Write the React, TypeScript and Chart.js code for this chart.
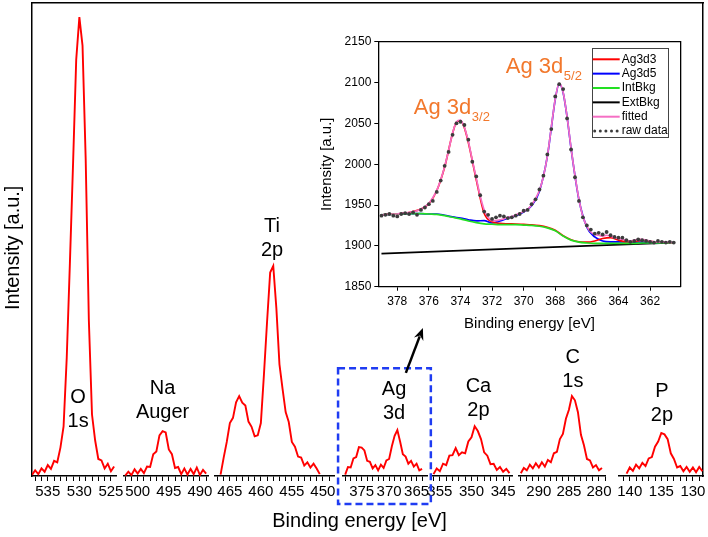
import React, { useEffect, useRef } from 'react';
import { Chart, registerables } from 'chart.js';

Chart.register(...registerables);

const FONT = "'Liberation Sans', Arial, Helvetica, sans-serif";
Chart.defaults.font.family = FONT;

// ---------------- survey spectrum (arbitrary intensity units) ----------------
const o1sE = [537.5, 537, 536.5, 536, 535.5, 535, 534.5, 534, 533.5, 533, 532.5, 532, 531.5, 531, 530.5, 530, 529.5, 529, 528.5, 528, 527.5, 527, 526.5, 526, 525.5, 525, 524.5];
const o1sI = [0.2, 1.2, 0.4, 1.6, 0.9, 2.3, 1.5, 3.2, 2.9, 6.0, 10.5, 25, 45, 66, 88, 97, 91, 67, 33, 13, 7.5, 3.6, 3.3, 1.6, 2.6, 1.0, 2.0];

const naE = [502, 501.5, 501, 500.5, 500, 499.5, 499, 498.5, 498, 497.5, 497, 496.5, 496, 495.5, 495, 494.5, 494, 493.5, 493, 492.5, 492, 491.5, 491, 490.5, 490, 489.5, 489];
const naI = [0.1, 0.9, 0.2, 1.4, 0.5, 1.5, 0.6, 2.0, 1.9, 4.6, 5.2, 8.6, 9.5, 9.2, 5.6, 4.6, 1.7, 1.9, 0.4, 1.6, 0.3, 1.5, 0.4, 1.8, 0.2, 1.3, 0.5];

const tiE = [466.5, 466, 465.5, 465, 464.5, 464, 463.5, 463, 462.5, 462, 461.5, 461, 460.5, 460, 459.5, 459, 458.5, 458, 457.5, 457, 456.5, 456, 455.5, 455, 454.5, 454, 453.5, 453, 452.5, 452, 451.5, 451, 450.5];
const tiI = [0.3, 3.9, 7.2, 11.2, 12.3, 15.6, 16.9, 15.5, 14.9, 11.5, 10.4, 8.4, 8.6, 11.2, 21.5, 32.6, 43, 44.4, 35.5, 23.6, 18.4, 13.5, 11.4, 7.2, 6.2, 4.1, 3.9, 2.2, 2.9, 1.8, 2.6, 1.6, 0.4];

const agE = [378, 377.5, 377, 376.5, 376, 375.5, 375, 374.5, 374, 373.5, 373, 372.5, 372, 371.5, 371, 370.5, 370, 369.5, 369, 368.5, 368, 367.5, 367, 366.5, 366, 365.5, 365, 364.5, 364];
const agI = [0.3, 1.9, 1.8, 3.7, 4.0, 6.1, 6.0, 5.4, 3.2, 3.0, 1.6, 2.3, 1.2, 2.4, 1.7, 3.3, 3.6, 6.3, 8.5, 9.7, 7.3, 4.6, 4.1, 2.6, 3.2, 2.0, 2.6, 1.2, 1.5];

const caE = [356, 355.5, 355, 354.5, 354, 353.5, 353, 352.5, 352, 351.5, 351, 350.5, 350, 349.5, 349, 348.5, 348, 347.5, 347, 346.5, 346, 345.5, 345, 344.5, 344];
const caI = [0.4, 1.6, 1.0, 2.6, 2.3, 4.3, 4.4, 5.9, 4.4, 5.0, 4.8, 7.3, 8.2, 10.5, 9.5, 7.8, 5.0, 4.3, 2.5, 2.6, 1.3, 1.9, 0.9, 1.5, 0.6];

const c1sE = [293, 292.5, 292, 291.5, 291, 290.5, 290, 289.5, 289, 288.5, 288, 287.5, 287, 286.5, 286, 285.5, 285, 284.5, 284, 283.5, 283, 282.5, 282, 281.5, 281, 280.5, 280, 279.5];
const c1sI = [0.6, 1.7, 1.2, 2.4, 1.6, 2.7, 1.8, 2.9, 2.0, 3.4, 2.9, 4.8, 5.1, 7.8, 8.9, 12.1, 14.0, 16.9, 16.0, 13.5, 8.7, 6.5, 3.6, 3.3, 1.8, 2.3, 1.2, 1.7];

const p2pE = [140.5, 140, 139.5, 139, 138.5, 138, 137.5, 137, 136.5, 136, 135.5, 135, 134.5, 134, 133.5, 133, 132.5, 132, 131.5, 131, 130.5, 130, 129.5, 129, 128.5];
const p2pI = [0.5, 1.8, 1.1, 2.4, 1.6, 2.8, 2.1, 3.7, 4.0, 6.2, 7.3, 9.1, 8.8, 7.8, 4.8, 3.6, 1.8, 2.1, 1.0, 1.9, 0.9, 1.8, 0.8, 1.9, 1.0];

const surveyE = [o1sE, naE, tiE, agE, caE, c1sE, p2pE];
const surveyI = [o1sI, naI, tiI, agI, caI, c1sI, p2pI];

// broken x axis: one axis per energy window (ranges in eV)
const segMax = [537.5, 502.2, 467.4, 378.4, 356.4, 293.3, 141.7];
const segMin = [524.2, 488.7, 448.2, 363.1, 343.6, 279.0, 128.4];

// peak annotations
const peakLines = [['O', '1s'], ['Na', 'Auger'], ['Ti', '2p'], ['Ag', '3d'], ['Ca', '2p'], ['C', '1s'], ['P', '2p']];
const peakE = [530.2, 496.0, 458.2, 369.1, 348.9, 284.35, 134.9];
const peakV = [16.7, 18.4, 52.7, 18.2, 18.9, 25.0, 17.8];

// ---------------- inset: Ag 3d fit ----------------
const insetE = [379, 378.75, 378.5, 378.25, 378, 377.75, 377.5, 377.25, 377, 376.75, 376.5, 376.25, 376, 375.75, 375.5, 375.25, 375, 374.75, 374.5, 374.25, 374, 373.75, 373.5, 373.25, 373, 372.75, 372.5, 372.25, 372, 371.75, 371.5, 371.25, 371, 370.75, 370.5, 370.25, 370, 369.75, 369.5, 369.25, 369, 368.75, 368.5, 368.25, 368, 367.75, 367.5, 367.25, 367, 366.75, 366.5, 366.25, 366, 365.75, 365.5, 365.25, 365, 364.75, 364.5, 364.25, 364, 363.75, 363.5, 363.25, 363, 362.75, 362.5, 362.25, 362, 361.75, 361.5, 361.25, 361, 360.75, 360.5];
const rawData = [1937, 1938, 1939, 1937, 1936, 1939, 1940, 1939, 1941, 1938, 1944, 1947, 1951, 1955, 1966, 1980, 1998, 2015, 2036, 2050, 2052, 2048, 2030, 2003, 1985, 1962, 1942, 1938, 1933, 1935, 1937, 1936, 1934, 1935, 1937, 1939, 1943, 1944, 1951, 1957, 1969, 1986, 2012, 2043, 2083, 2098, 2092, 2056, 2018, 1984, 1955, 1935, 1925, 1920, 1915, 1916, 1914, 1917, 1913, 1911, 1910, 1910, 1907, 1905, 1906, 1908, 1907, 1906, 1905, 1904, 1906, 1905, 1904, 1905, 1904];
const fitted = [1938, 1938, 1939, 1939, 1939, 1940, 1940, 1941, 1942, 1943, 1945, 1948, 1952, 1959, 1968, 1981, 1997, 2017, 2038, 2052, 2054, 2045, 2028, 2005, 1983, 1961, 1944, 1935, 1931, 1931, 1932, 1933, 1935, 1936, 1938, 1940, 1942, 1945, 1950, 1958, 1968, 1985, 2010, 2045, 2080, 2099, 2088, 2058, 2020, 1986, 1957, 1936, 1924, 1917, 1914, 1913, 1912, 1913, 1912, 1910, 1909, 1908, 1907, 1906, 1907, 1908, 1908, 1907, 1906, 1905, 1905, 1905, 1905, 1904, 1904];

const compE = [379, 378.5, 378, 377.5, 377, 376.5, 376, 375.5, 375, 374.5, 374, 373.5, 373, 372.5, 372, 371.5, 371, 370.5, 370, 369.5, 369, 368.5, 368, 367.5, 367, 366.5, 366, 365.5, 365, 364.5, 364, 363.5, 363, 362.5, 362, 361.5, 361, 360.5];
const intBkg = [1938, 1938.5, 1939, 1939.5, 1939.5, 1939.5, 1939, 1938.5, 1937, 1935, 1933, 1930.5, 1928.5, 1927, 1926.5, 1926, 1926, 1926, 1925.5, 1925, 1924, 1922, 1918.5, 1912, 1907, 1904.5, 1903.5, 1903, 1903, 1903, 1903, 1903, 1903, 1903.5, 1903.5, 1903.5, 1903.5, 1903.5];
const ag3d3E = [379, 378.5, 378, 377.5, 377, 376.5, 376, 375.5, 375, 374.5, 374.25, 374, 373.75, 373.5, 373, 372.5, 372, 371.5, 371, 370.5, 370, 369.5, 369, 368.5, 368, 367.5, 367, 366.5, 366, 365.5, 365, 364.5, 364, 363.5, 363, 362.5, 362, 361.5, 361, 360.5];
const ag3d3 = [1938, 1939, 1939, 1940, 1942, 1945, 1951.5, 1967.5, 1996.5, 2037.5, 2051.5, 2053, 2044.5, 2026.5, 1981, 1940, 1929.5, 1927.5, 1927, 1926.8, 1926.3, 1925.8, 1924.7, 1922.6, 1919, 1912.5, 1907.5, 1905, 1904.5, 1906, 1909, 1910, 1907, 1905, 1905.5, 1907, 1905.5, 1904.5, 1904, 1903.5];
const ag3d5E = [379, 378.5, 378, 377.5, 377, 376.5, 376, 375.5, 375, 374.5, 374, 373.5, 373, 372.5, 372, 371.5, 371, 370.5, 370, 369.5, 369, 368.5, 368.25, 368, 367.75, 367.5, 367.25, 367, 366.5, 366, 365.5, 365, 364.5, 364, 363.5, 363, 362.5, 362, 361.5, 361, 360.5];
const ag3d5 = [1938, 1938.5, 1939, 1939.5, 1939.5, 1939.5, 1939, 1939, 1937.5, 1935.5, 1934, 1932, 1930.5, 1931, 1928, 1930.5, 1934, 1937, 1941.5, 1949, 1967, 2009.5, 2044.5, 2079.5, 2098.5, 2087.5, 2057.5, 2019.5, 1956.5, 1923, 1911, 1906, 1905, 1905, 1905, 1904.5, 1904.5, 1904, 1904, 1904, 1903.5];
const extBkgE = [379, 360.5];
const extBkg = [1890.5, 1904];

const insetXTicks = [362, 364, 366, 368, 370, 372, 374, 376, 378];
const noteE = [376.95, 371.13];
const noteV = [2061.5, 2112];
const noteMain = ['Ag 3d', 'Ag 3d'];
const noteSub = ['3/2', '5/2'];

// ---------------- layout constants ----------------
const segWidth = [84, 84, 119, 84, 81, 86, 84];
const gapWidth = [8, 7, 9, 4, 7, 14];
const zoomBox = { axis: 'x4', e0: 379.3, e1: 362.4, v: 22.8 };
const arrowE = [366.95, 363.85];
const arrowV = [21.8, 31.3];

const pts = (xs: number[], ys: number[]) => xs.map((x, i) => ({ x, y: ys[i] }));

const frameAxis = (position: string, size: number) => ({
  type: 'linear',
  position,
  display: true,
  ticks: { display: false },
  grid: { display: false },
  border: { display: true, color: '#000', width: 1.5 },
  afterFit: (s: any) => {
    if (position === 'top' || position === 'bottom') s.height = size; else s.width = size;
  },
});

const surveyDecor = {
  id: 'surveyDecor',
  afterDatasetsDraw(chart: any) {
    const { ctx, chartArea } = chart;
    const yS = chart.scales.y;
    ctx.save();
    ctx.fillStyle = '#000';
    ctx.font = `20px ${FONT}`;
    ctx.textAlign = 'center';
    ctx.textBaseline = 'middle';
    peakLines.forEach((lines, i) => {
      const xs = chart.scales['x' + (i + 1)];
      const px = xs.getPixelForValue(peakE[i]);
      const py = yS.getPixelForValue(peakV[i]);
      lines.forEach((t, j) => ctx.fillText(t, px, py + j * 24));
    });
    const xb = chart.scales[zoomBox.axis];
    const bx0 = xb.getPixelForValue(zoomBox.e0);
    const bx1 = xb.getPixelForValue(zoomBox.e1);
    const by0 = yS.getPixelForValue(zoomBox.v);
    const by1 = chartArea.bottom + 28;
    ctx.strokeStyle = '#1f3cf2';
    ctx.lineWidth = 2.5;
    ctx.setLineDash([7, 4]);
    ctx.strokeRect(bx0, by0, bx1 - bx0, by1 - by0);
    ctx.setLineDash([]);
    const ax0 = xb.getPixelForValue(arrowE[0]);
    const ay0 = yS.getPixelForValue(arrowV[0]);
    const ax1 = xb.getPixelForValue(arrowE[1]);
    const ay1 = yS.getPixelForValue(arrowV[1]);
    const ang = Math.atan2(ay1 - ay0, ax1 - ax0);
    const head = 12, hw = 5;
    const hx = ax1 - head * Math.cos(ang), hy = ay1 - head * Math.sin(ang);
    ctx.strokeStyle = '#000';
    ctx.lineWidth = 2.5;
    ctx.beginPath();
    ctx.moveTo(ax0, ay0);
    ctx.lineTo(hx + 3 * Math.cos(ang), hy + 3 * Math.sin(ang));
    ctx.stroke();
    ctx.fillStyle = '#000';
    ctx.beginPath();
    ctx.moveTo(ax1, ay1);
    ctx.lineTo(hx + hw * Math.sin(ang), hy - hw * Math.cos(ang));
    ctx.lineTo(hx + 4 * Math.cos(ang), hy + 4 * Math.sin(ang));
    ctx.lineTo(hx - hw * Math.sin(ang), hy + hw * Math.cos(ang));
    ctx.closePath();
    ctx.fill();
    ctx.restore();
  },
};

const insetDecor = {
  id: 'insetDecor',
  afterDatasetsDraw(chart: any) {
    const { ctx, chartArea } = chart;
    ctx.save();
    const lw = 76, lh = 89;
    const lx = chartArea.right - 89, ly = chartArea.top + 6.6;
    ctx.fillStyle = '#fff';
    ctx.fillRect(lx, ly, lw, lh);
    ctx.strokeStyle = '#444';
    ctx.lineWidth = 1;
    ctx.strokeRect(Math.round(lx) + 0.5, Math.round(ly) + 0.5, lw, lh);
    ctx.font = `12px ${FONT}`;
    ctx.textAlign = 'left';
    ctx.textBaseline = 'middle';
    chart.data.datasets.forEach((ds: any, i: number) => {
      const cy = ly + 11 + i * 14.35;
      if (ds.showLine === false) {
        ctx.fillStyle = ds.pointBackgroundColor;
        for (let k = 0; k < 5; k++) {
          ctx.beginPath();
          ctx.arc(lx + 3 + k * 5.6, cy, 1.5, 0, Math.PI * 2);
          ctx.fill();
        }
      } else {
        ctx.strokeStyle = ds.borderColor;
        ctx.lineWidth = 2;
        ctx.beginPath();
        ctx.moveTo(lx + 1, cy);
        ctx.lineTo(lx + 28, cy);
        ctx.stroke();
      }
      ctx.fillStyle = '#000';
      ctx.fillText(ds.label, lx + 30, cy);
    });
    const xS = chart.scales.x, yS = chart.scales.y;
    ctx.fillStyle = '#f2782c';
    ctx.textBaseline = 'alphabetic';
    noteMain.forEach((t, i) => {
      const px = xS.getPixelForValue(noteE[i]);
      const py = yS.getPixelForValue(noteV[i]);
      ctx.font = `22px ${FONT}`;
      ctx.fillText(t, px, py);
      const w = ctx.measureText(t).width;
      ctx.font = `13px ${FONT}`;
      ctx.fillText(noteSub[i], px + w + 0.5, py + 7);
    });
    ctx.restore();
  },
};

function surveyConfig(): any {
  const scales: any = {
    y: {
      type: 'linear',
      position: 'left',
      min: 0,
      max: 100,
      ticks: { display: false },
      grid: { display: false },
      border: { display: true, color: '#000', width: 1.5 },
      title: { display: true, text: 'Intensity [a.u.]   ', color: '#000', font: { size: 20, family: FONT }, padding: { top: 1, bottom: 0 } },
      afterFit: (s: any) => { s.width = 32; },
    },
    yR: frameAxis('right', 16),
    xTop: frameAxis('top', 0),
  };
  segMax.forEach((mx, i) => {
    const mn = segMin[i];
    scales['x' + (i + 1)] = {
      type: 'linear',
      position: 'bottom',
      stack: 'broken',
      stackWeight: segWidth[i],
      min: mn,
      max: mx,
      reverse: true,
      afterBuildTicks: (s: any) => {
        const t: any[] = [];
        for (let v = Math.ceil(mn); v <= Math.floor(mx); v++) t.push({ value: v });
        s.ticks = t;
      },
      ticks: {
        autoSkip: false,
        maxRotation: 0,
        minRotation: 0,
        padding: 2,
        color: '#000',
        font: { size: 15, family: FONT },
        callback: (v: any) => (Math.round(v) % 5 === 0 ? String(Math.round(v)) : ''),
      },
      grid: { display: true, drawOnChartArea: false, drawTicks: true, tickLength: 5, tickColor: '#000', tickWidth: 1 },
      border: { display: true, color: '#000', width: 1.5 },
      afterFit: (s: any) => { s.height = 25; s.paddingLeft = 0; s.paddingRight = 0; },
    };
    if (i < gapWidth.length) {
      scales['gap' + (i + 1)] = {
        type: 'linear',
        position: 'bottom',
        stack: 'broken',
        stackWeight: gapWidth[i],
        display: true,
        ticks: { display: false },
        grid: { display: false },
        border: { display: false },
        afterFit: (s: any) => { s.height = 25; s.paddingLeft = 0; s.paddingRight = 0; },
      };
    }
  });
  const datasets = surveyE.map((es, i) => ({
    label: 'survey ' + (i + 1),
    data: pts(es, surveyI[i]),
    xAxisID: 'x' + (i + 1),
    yAxisID: 'y',
    showLine: true,
    borderColor: '#ff0000',
    borderWidth: 1.9,
    pointRadius: 0,
    tension: 0,
    fill: false,
  }));
  return {
    type: 'scatter',
    data: { datasets },
    options: {
      responsive: false,
      animation: false,
      devicePixelRatio: 1,
      events: [],
      layout: { padding: { left: 0, right: -11, top: 3, bottom: 0 } },
      scales,
      plugins: {
        legend: { display: false },
        tooltip: { enabled: false },
        title: {
          display: true,
          position: 'bottom',
          text: 'Binding energy [eV]',
          color: '#000',
          font: { size: 20, weight: 'normal', family: FONT },
          padding: { top: 8, bottom: 4 },
        },
      },
    },
    plugins: [surveyDecor],
  };
}

function insetConfig(): any {
  const line = (label: string, xs: number[], ys: number[], color: string, order: number) => ({
    label,
    data: pts(xs, ys),
    showLine: true,
    borderColor: color,
    backgroundColor: color,
    borderWidth: 1.7,
    pointRadius: 0,
    cubicInterpolationMode: 'monotone',
    fill: false,
    order,
  });
  return {
    type: 'scatter',
    data: {
      datasets: [
        line('Ag3d3', ag3d3E, ag3d3, '#ff0000', 3),
        line('Ag3d5', ag3d5E, ag3d5, '#0000ff', 4),
        line('IntBkg', compE, intBkg, '#22e022', 2),
        line('ExtBkg', extBkgE, extBkg, '#000000', 5),
        line('fitted', insetE, fitted, '#f56fc4', 1),
        {
          label: 'raw data',
          data: pts(insetE, rawData),
          showLine: false,
          pointRadius: 1.9,
          pointBorderWidth: 0,
          pointBackgroundColor: '#3c3c3c',
          pointBorderColor: '#3c3c3c',
          order: 0,
        },
      ],
    },
    options: {
      responsive: false,
      animation: false,
      devicePixelRatio: 1,
      events: [],
      layout: { padding: { left: 317.7, right: 27.3, top: 41.7, bottom: 204.3 } },
      scales: {
        x: {
          type: 'linear',
          position: 'bottom',
          min: 360.06,
          max: 379.2,
          reverse: true,
          afterBuildTicks: (s: any) => { s.ticks = insetXTicks.map((v) => ({ value: v })); },
          ticks: { color: '#000', padding: 4, maxRotation: 0, autoSkip: false, font: { size: 12, family: FONT }, callback: (v: any) => String(v) },
          grid: { display: true, drawOnChartArea: false, drawTicks: true, tickLength: 4, tickColor: '#000', tickWidth: 1 },
          border: { display: true, color: '#000', width: 1.3 },
          title: { display: true, text: 'Binding energy [eV]', color: '#000', font: { size: 15, family: FONT }, padding: { top: 6, bottom: 0 } },
          afterFit: (s: any) => { s.height = 46; s.paddingLeft = 0; s.paddingRight = 0; },
        },
        y: {
          type: 'linear',
          position: 'left',
          min: 1850,
          max: 2150,
          ticks: { stepSize: 50, color: '#000', padding: 3, font: { size: 12, family: FONT }, callback: (v: any) => String(v) },
          grid: { display: true, drawOnChartArea: false, drawTicks: true, tickLength: 4, tickColor: '#000', tickWidth: 1 },
          border: { display: true, color: '#000', width: 1.3 },
          title: { display: true, text: 'Intensity [a.u.]', color: '#000', font: { size: 15, family: FONT }, padding: { top: 0, bottom: 0 } },
          afterFit: (s: any) => { s.width = 60.6; },
        },
        xT: { ...frameAxis('top', 0), border: { display: true, color: '#000', width: 1.3 } },
        yR: { ...frameAxis('right', 0), border: { display: true, color: '#000', width: 1.3 } },
      },
      plugins: { legend: { display: false }, tooltip: { enabled: false } },
    },
    plugins: [insetDecor],
  };
}

export default function App() {
  const mainRef = useRef<HTMLCanvasElement>(null);
  const insetRef = useRef<HTMLCanvasElement>(null);
  useEffect(() => {
    const c1 = new Chart(mainRef.current as HTMLCanvasElement, surveyConfig());
    const c2 = new Chart(insetRef.current as HTMLCanvasElement, insetConfig());
    return () => {
      c1.destroy();
      c2.destroy();
    };
  }, []);
  const cs: React.CSSProperties = { position: 'absolute', left: 0, top: 0, width: 708, height: 537 };
  return (
    <div style={{ position: 'fixed', left: 0, top: 0, width: 708, height: 537, background: '#fff' }}>
      <canvas ref={mainRef} width={708} height={537} style={cs} />
      <canvas ref={insetRef} width={708} height={537} style={cs} />
    </div>
  );
}
